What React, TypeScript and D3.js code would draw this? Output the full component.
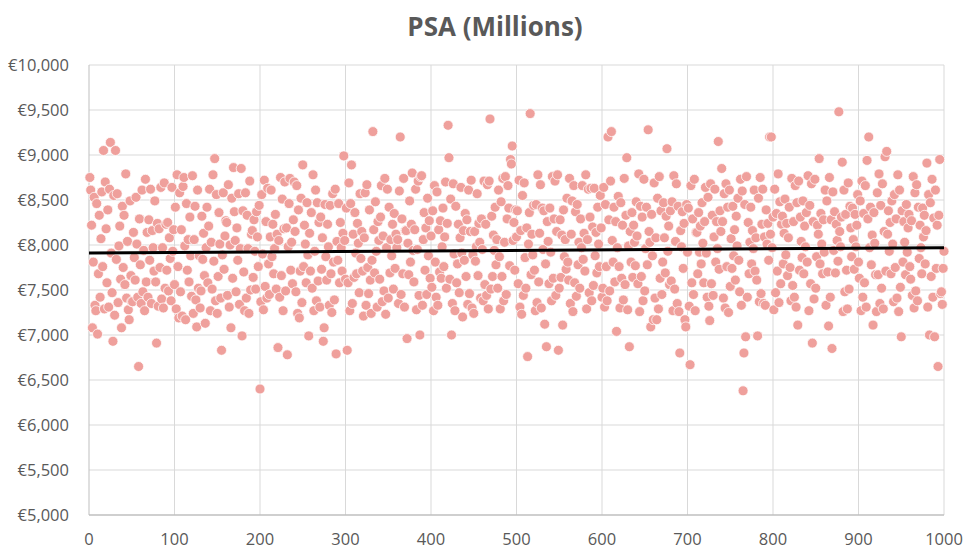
import React from "react";
import * as d3 from "d3";

// PSA values (in tens of euros, index 1..1000)
const seg0 = [875,861,822,708,781,853,733,727,846,701,768,833,742,807,859,776,905,729,870,818,758,839,731,862,914,791,747,693,855,722,905,784,857,736,799,821,762,708,843,775,833,756,879,741,804,728,717,849,766,737,737,814,786,761,853,801,742,665,829,778,735,861,748,794,727,873,759,814,742,828,783,862,735,816,797,771,849,759,691,824,732,818,775,864,740,797,730,869,752,823,772,825,749,808,785,738,864,793,817,756];
const seg1 = [842,729,878,776,719,858,748,817,721,865,875,799,717,846,772,806,759,831,788,743,877,724,806,843,739,709,861,752,788,730,749,832,784,813,766,713,797,842,758,821,862,727,803,751,878,782,896,738,856,724,765,836,801,741,683,789,858,773,810,827,825,744,867,731,800,708,852,763,886,837,805,748,819,783,857,734,796,885,699,838,770,727,858,741,833,796,724,871,750,812,816,764,828,793,751,837,809,776,844,640];
const seg2 = [737,856,790,728,872,754,826,741,863,779,745,809,861,787,823,768,796,834,751,812,686,805,742,875,766,851,727,818,870,749,819,678,798,846,874,772,803,757,828,870,815,748,866,724,839,719,771,852,736,889,776,822,801,758,847,789,699,813,771,836,752,878,727,793,861,738,847,760,825,731,831,773,808,693,708,845,787,761,823,798,733,844,768,725,857,781,739,862,679,804,783,846,758,825,797,771,813,899,805,762];
const seg3 = [841,683,758,869,727,846,889,735,812,764,836,791,768,824,802,747,857,785,815,771,721,808,858,733,867,775,746,839,761,724,783,926,817,769,848,793,731,826,805,762,831,866,737,810,749,874,723,797,862,741,842,769,806,788,823,751,835,774,812,797,806,735,860,920,745,829,768,874,731,816,816,696,802,767,849,781,823,880,794,759,817,862,728,795,871,744,700,876,877,733,806,836,772,819,745,852,788,827,763,810];
const seg4 = [753,838,727,866,781,742,859,733,817,770,827,763,798,841,776,809,870,752,824,933,897,762,851,700,735,868,790,727,843,758,779,823,747,808,864,791,720,816,783,835,765,828,734,861,746,815,872,730,789,724,815,782,798,857,766,824,803,741,829,795,738,871,756,823,744,867,729,871,940,751,832,765,811,794,842,778,806,752,861,787,729,848,765,874,738,803,876,745,829,866,841,777,895,890,910,805,825,772,839,809];
const seg5 = [838,757,872,731,816,723,855,744,869,786,752,819,676,801,836,946,767,812,789,844,772,727,845,736,878,759,813,867,730,841,795,838,712,779,687,826,804,757,841,792,738,876,763,829,871,744,815,878,683,752,828,764,811,711,839,787,806,773,852,781,761,874,735,812,849,726,866,758,837,743,845,778,803,752,829,797,866,784,813,771,878,729,806,862,747,831,863,738,820,755,863,788,814,769,842,801,776,855,819,742];
const seg6 = [752,864,731,845,776,738,920,828,749,871,926,805,781,842,759,826,704,797,854,776,730,847,763,822,739,874,756,833,897,728,799,687,815,781,836,764,822,803,777,848,810,757,879,726,843,765,831,738,873,749,796,842,778,928,815,803,709,834,788,717,869,741,808,717,852,729,876,763,838,745,781,847,808,769,832,907,793,821,756,838,760,848,727,877,751,804,868,735,843,726,680,816,798,837,774,824,717,709,845,792];
const seg7 = [841,732,667,866,758,829,745,873,727,814,814,768,836,792,821,779,847,802,758,826,864,791,742,853,732,716,868,757,833,744,809,862,781,826,796,915,773,838,815,885,826,741,857,730,868,776,842,725,861,754,807,774,843,788,817,761,832,799,852,783,748,873,733,860,638,680,845,698,876,742,825,768,803,842,779,816,796,861,771,808,761,699,852,737,875,746,823,862,735,809,733,839,801,824,783,920,812,920,797,831];
const seg8 = [728,862,747,835,771,879,736,848,757,823,832,779,813,851,789,824,766,808,842,775,738,874,755,826,742,866,731,847,711,871,772,831,804,786,849,768,821,798,836,781,877,727,844,757,868,691,826,740,873,752,787,822,812,896,779,835,801,768,828,792,861,733,849,770,710,875,742,828,685,859,794,837,769,823,805,782,948,815,798,831,892,726,861,748,834,772,729,869,751,843,819,787,841,806,773,834,798,822,856,781];
const seg9 = [763,849,727,871,742,835,758,866,731,894,829,920,797,842,778,811,711,836,802,767,726,858,767,879,735,844,752,868,729,815,898,771,904,812,838,793,825,768,849,801,737,856,775,829,741,878,726,861,753,698,838,781,826,803,767,845,792,819,834,776,762,827,744,876,730,858,749,867,738,842,785,822,797,768,841,809,833,779,816,891,731,856,700,847,765,873,742,830,698,861,774,822,665,833,895,746,748,734,774,793];

const trendValues = [7910, 7970];
const xTicks = [0, 100, 200, 300, 400, 500, 600, 700, 800, 900, 1000];
const yTicks = [5000, 5500, 6000, 6500, 7000, 7500, 8000, 8500, 9000, 9500, 10000];
const title = "PSA (Millions)";

const values = [seg0, seg1, seg2, seg3, seg4, seg5, seg6, seg7, seg8, seg9].flat().map((v) => v * 10);

export default function App() {
  const W = 964, H = 550;
  const left = 89, right = 944, top = 65, bottom = 515;
  const x = d3.scaleLinear().domain([0, 1000]).range([left, right]);
  const y = d3.scaleLinear().domain([5000, 10000]).range([bottom, top]);
  const fmt = (v: number) => "€" + d3.format(",")(v);
  const line = d3.line<[number, number]>().x((d) => x(d[0])).y((d) => y(d[1]));
  const trend: [number, number][] = [[0, trendValues[0]], [1000, trendValues[1]]];
  const font = "'Open Sans', 'Liberation Sans', sans-serif";
  return (
    <svg width={W} height={H} style={{ position: "absolute", left: 0, top: 0, background: "#fff" }}>
      <rect width={W} height={H} fill="#fff" />
      <text x={495} y={36} textAnchor="middle" fontFamily={font} fontWeight={700} fontSize={26} fill="#595959">{title}</text>
      {yTicks.map((t) => (
        <g key={"y" + t}>
          {t > 5000 && <line x1={left} x2={right} y1={y(t)} y2={y(t)} stroke="#d9d9d9" strokeWidth={1} />}
          <text x={69} y={y(t) + 6} textAnchor="end" fontFamily={font} fontSize={16.5} fill="#595959">{fmt(t)}</text>
        </g>
      ))}
      {xTicks.map((t) => (
        <g key={"x" + t}>
          {t > 0 && <line x1={x(t)} x2={x(t)} y1={top} y2={bottom} stroke="#d9d9d9" strokeWidth={1} />}
          <text x={x(t)} y={545} textAnchor="middle" fontFamily={font} fontSize={16.5} fill="#595959">{t}</text>
        </g>
      ))}
      <line x1={left} x2={left} y1={top} y2={bottom} stroke="#bfbfbf" strokeWidth={1} />
      <line x1={left} x2={right} y1={bottom} y2={bottom} stroke="#bfbfbf" strokeWidth={1.5} />
      <g>
        {values.map((v, i) => (
          <circle key={i} cx={x(i + 1)} cy={y(v)} r={5} fill="#EFA09C" stroke="#ffffff" strokeWidth={0.75} />
        ))}
      </g>
      <path d={line(trend) || ""} stroke="#000" strokeWidth={3} fill="none" />
    </svg>
  );
}
